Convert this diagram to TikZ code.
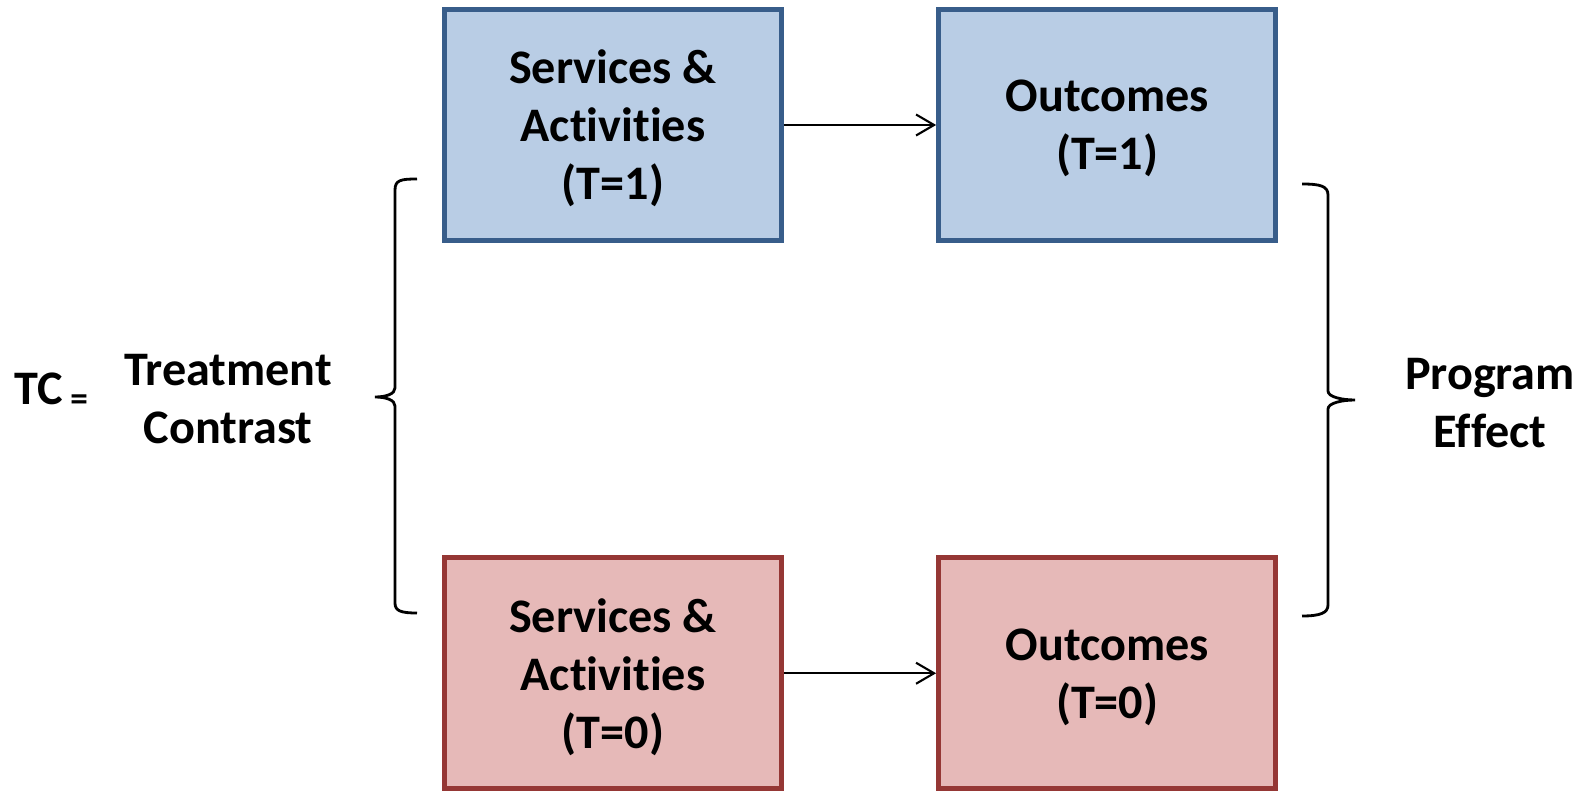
\documentclass[tikz,border=0pt]{standalone}
\usepackage{fontspec}
\setmainfont{Carlito}[Ligatures=NoCommon]
\usepackage{xcolor}
\usetikzlibrary{positioning,arrows.meta}

\definecolor{tfill}{RGB}{185,205,229}
\definecolor{tline}{RGB}{56,93,138}
\definecolor{cfill}{RGB}{230,185,184}
\definecolor{cline}{RGB}{149,55,53}

\begin{document}
\begin{tikzpicture}[
  x=0.01cm,y=-0.01cm,
  every node/.style={font=\fontsize{13.7}{16.5}\selectfont\bfseries},
  box/.style={draw,line width=1.4pt,minimum width=3.37cm,minimum height=2.31cm,align=center,text depth=-1pt},
  tbox/.style={box,fill=tfill,draw=tline},
  cbox/.style={box,fill=cfill,draw=cline},
  lbl/.style={align=center,inner sep=0pt},
  arrow/.style={-{Straight Barb[length=1.8mm,width=2.1mm]},line width=0.6pt},
  brace/.style={line width=0.8pt}]
\useasboundingbox (0,0) rectangle (1581,791);
% boxes
\node[tbox] (sa1) at (613,125) {Services \&\\Activities\\(T=1)};
\node[tbox,right=1.52cm of sa1] (out1) {Outcomes\\(T=1)};
\node[cbox,below=3.12cm of sa1] (sa0) {Services \&\\Activities\\(T=0)};
\node[cbox,right=1.52cm of sa0] (out0) {Outcomes\\(T=0)};
\draw[arrow] (sa1) -- (out1);
\draw[arrow] (sa0) -- (out0);
% braces
\draw[brace] (417,179) .. controls (401,179) and (395,180) .. (395,190)
  -- (395,388) .. controls (395,394) and (386,397) .. (375,397)
  .. controls (386,397) and (395,400) .. (395,406)
  -- (395,603) .. controls (395,611) and (401,613) .. (417,613);
\draw[brace] (1302,184) .. controls (1320,184) and (1328,186) .. (1328,195)
  -- (1328,391) .. controls (1328,397) and (1342,400) .. (1355,400)
  .. controls (1342,400) and (1328,403) .. (1328,409)
  -- (1328,605) .. controls (1328,613) and (1320,616) .. (1302,616);
% labels
\node[lbl,anchor=base west] (tc) at (14,404) {TC};
\node[lbl,anchor=base west,font=\fontsize{10}{11}\selectfont\bfseries] (eq) at ([xshift=0.06cm,yshift=-0.06cm]tc.base east) {=};
\node[lbl] (tcl) at (228,399) {Treatment\\Contrast};
\node[lbl] (pel) at (1490,403) {Program\\Effect};
\end{tikzpicture}
\end{document}
